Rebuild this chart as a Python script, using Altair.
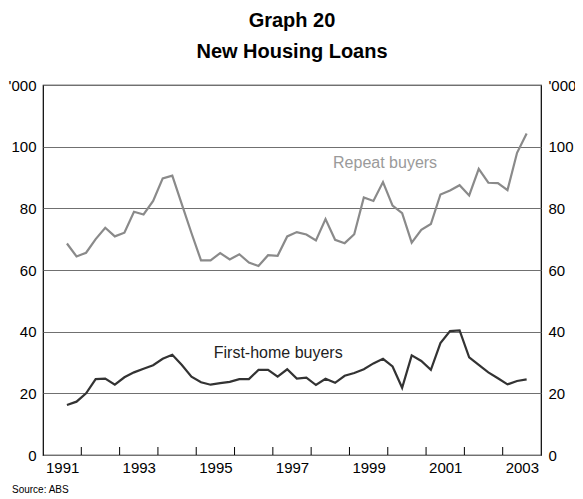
import altair as alt
import pandas as pd

# Quarterly data, first observation 1991 Q3
start_year, start_q = 1991, 3
repeat_buyers = [68.6, 64.4, 65.6, 70.0, 73.7, 70.9, 72.1, 78.9, 78.0, 82.4, 89.7, 90.6,
                 81.3, 72.0, 63.1, 63.1, 65.5, 63.4, 65.1, 62.4, 61.3, 64.8, 64.6, 70.9,
                 72.3, 71.5, 69.6, 76.5, 69.8, 68.7, 71.6, 83.5, 82.4, 88.5, 80.9, 78.4, 68.9,
                 73.0, 74.9, 84.5, 85.8, 87.5, 84.2, 92.8, 88.3, 88.2, 85.9, 98.0, 104.3]
first_home = [16.2, 17.3, 20.0, 24.6, 24.8, 22.8, 25.2, 26.8, 28.0, 29.1, 31.2, 32.5,
              29.2, 25.4, 23.6, 22.8, 23.3, 23.7, 24.6, 24.6, 27.6, 27.6, 25.4, 27.8,
              24.8, 25.1, 22.7, 24.7, 23.4, 25.7, 26.6, 27.8, 29.7, 31.2, 28.7, 21.8, 32.3,
              30.5, 27.6, 36.3, 40.2, 40.4, 31.7, 29.2, 26.8, 24.9, 22.9, 24.0, 24.5]
series_names = ["Repeat buyers", "First-home buyers"]
series_colors = ["#8a8a8a", "#333333"]
label_colors = ["#9a9a9a", "#222222"]
label_x = [1999.93, 1997.14]
label_y = [94.7, 33.1]
year_labels = [1991, 1993, 1995, 1997, 1999, 2001, 2003]
year_ticks = list(range(1992, 2004))
y_ticks = [0, 20, 40, 60, 80, 100, 120]

n = len(repeat_buyers)
xs = [start_year + (start_q - 1 + i) / 4 + 0.125 for i in range(n)]
rows = []
for name, vals in zip(series_names, [repeat_buyers, first_home]):
    for x, v in zip(xs, vals):
        rows.append({"x": x, "value": v, "series": name})
df = pd.DataFrame(rows)
labels_df = pd.DataFrame({"x": label_x, "value": label_y, "series": series_names})
ticks_df = pd.DataFrame({"x": year_ticks})

FONT = "Liberation Sans"
W, H = 498, 370
xscale = alt.Scale(domain=[1991, 2004], nice=False, zero=False)
yscale = alt.Scale(domain=[0, 120], nice=False)
x_axis = alt.Axis(values=year_labels, labelExpr="datum.value", format="d",
                  labelOffset=W / 13 / 2, labelFlush=False, labelAlign="center",
                  tickSize=0, domain=False, grid=False,
                  title=None, labelFont=FONT, labelFontSize=15, labelColor="black",
                  labelPadding=5)

lines = alt.Chart(df).mark_line(strokeWidth=2.2).encode(
    x=alt.X("x:Q", scale=xscale, axis=x_axis),
    y=alt.Y("value:Q", scale=yscale,
            axis=alt.Axis(values=y_ticks, orient="left", grid=True, gridColor="#707070",
                          gridWidth=1, tickSize=0, domain=False, title=None,
                          labelExpr="datum.value == 120 ? \"'000\" : datum.label",
                          labelFont=FONT, labelFontSize=15, labelColor="black",
                          labelPadding=7)),
    color=alt.Color("series:N", scale=alt.Scale(domain=series_names, range=series_colors),
                    legend=None),
)

texts = alt.Chart(labels_df).mark_text(font=FONT, fontSize=16).encode(
    x=alt.X("x:Q", scale=xscale, axis=x_axis),
    y=alt.Y("value:Q", scale=yscale,
            axis=alt.Axis(values=y_ticks, orient="right", grid=False, tickSize=0,
                          domain=False, title=None,
                          labelExpr="datum.value == 120 ? \"'000\" : datum.label",
                          labelFont=FONT, labelFontSize=15, labelColor="black",
                          labelPadding=7)),
    color=alt.Color("series:N", scale=alt.Scale(domain=series_names, range=label_colors),
                    legend=None),
    text="series:N",
)

ticks = alt.Chart(ticks_df).mark_rule(color="black", strokeWidth=1).encode(
    x=alt.X("x:Q", scale=xscale, axis=x_axis),
    y=alt.value(H),
    y2=alt.value(H - 8),
)

source = alt.Chart(pd.DataFrame({"t": ["Source: ABS"]})).mark_text(
    font=FONT, fontSize=10, align="left", baseline="middle", color="black"
).encode(x=alt.value(-31), y=alt.value(405), text="t:N")

chart = alt.layer(lines, texts, ticks, source).resolve_scale(
    y="independent", color="independent"
).properties(
    width=W, height=H,
    autosize=alt.AutoSizeParams(type="none"),
    padding={"left": 35, "top": 77, "right": 34, "bottom": 44},
    title=alt.TitleParams("Graph 20", subtitle="New Housing Loans", font=FONT,
                          subtitleFont=FONT, fontSize=20, subtitleFontSize=20,
                          fontWeight="bold", subtitleFontWeight="bold", color="black",
                          subtitleColor="black", anchor="middle", frame="group",
                          offset=16, subtitlePadding=11),
).configure_view(stroke="black", strokeWidth=1.2)

chart.save("out.html", embed_options={"renderer": "svg", "actions": False})
